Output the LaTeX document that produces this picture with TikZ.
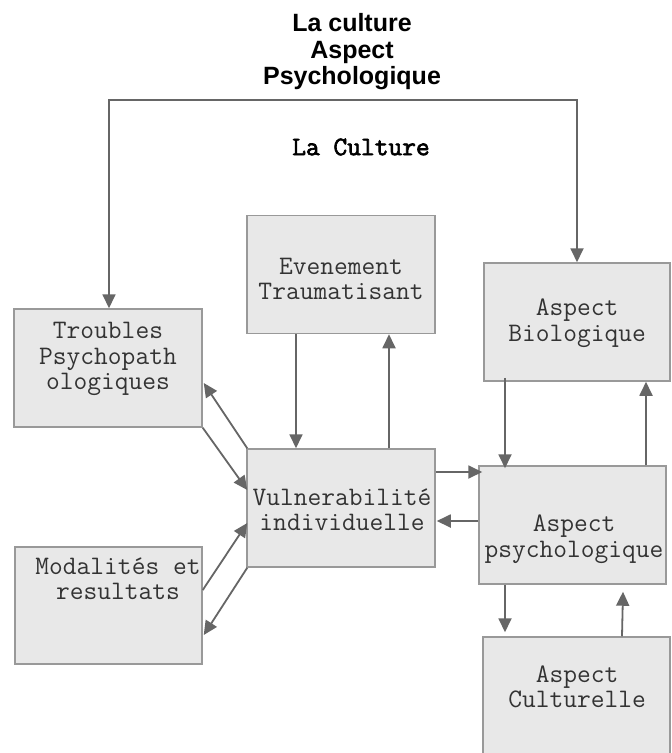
\documentclass[tikz,border=0pt]{standalone}
\usepackage{fontspec}
\setmainfont{Liberation Sans}
\newfontfamily\boldmono[AutoFakeBold=2.5]{Latin Modern Mono}
\usetikzlibrary{arrows.meta}
\definecolor{boxfill}{HTML}{E8E8E8}
\definecolor{boxline}{HTML}{999999}
\definecolor{arrline}{HTML}{666666}
\definecolor{txtgray}{HTML}{333333}
\begin{document}
\begin{tikzpicture}[x=1pt,y=-1pt,
  box/.style={draw=boxline,fill=boxfill,line width=1.5pt,minimum width=188pt,minimum height=118pt,inner sep=0pt},
  lbl/.style={align=center,text=txtgray,inner sep=0pt,font=\ttfamily\fontsize{26.7}{25.5}\selectfont},
  arr/.style={draw=arrline,line width=1.8pt,-{Triangle[length=14pt,width=13pt]}},
  arrb/.style={draw=arrline,line width=1.8pt,{Triangle[length=14pt,width=13pt]}-{Triangle[length=14pt,width=13pt]}}]
\clip (0,0) rectangle (672,753);
\fill[white] (0,0) rectangle (672,753);
% titles
\node[font=\bfseries\fontsize{25}{26.5}\selectfont,align=center,inner sep=0pt] (title) at (352,52) {La culture\\Aspect\\Psychologique};
\node[font=\boldmono\bfseries\fontsize{26.7}{25}\selectfont,inner sep=0pt] (cult) at (361,147) {La Culture};
% boxes
\node[box] (evt) at (341,274.5) {};\node[lbl] (evtT) at (341,279) {Evenement\\Traumatisant};
\node[box] (trb) at (108,368) {};\node[lbl] (trbT) at (108,359) {Troubles\\Psychopath\\ologiques};
\node[box,minimum width=186pt] (bio) at (577,322) {};\node[lbl] (bioT) at (577,323) {Aspect\\Biologique};
\node[box] (vul) at (341,508) {};\node[lbl] (vulT) at (342,510) {Vulnerabilité\\individuelle};
\node[box,minimum width=187pt] (psy) at (572.5,525) {};\node[lbl] (psyT) at (574,539) {Aspect\\psychologique};
\node[box,minimum width=187pt,minimum height=117pt] (mod) at (108.5,605.5) {};\node[lbl] (modT) at (118,579) {Modalités et\\resultats};
\node[box,minimum width=187pt] (cul) at (576.5,696) {};\node[lbl] (culT) at (577,687) {Aspect\\Culturelle};
% frame on top
\coordinate (frmL) at (109,100);\coordinate (frmR) at (577,100);
\draw[arrb] (frmL |- trb.north) -- (frmL) -- (frmR) -- (frmR |- bio.north);
% links
\draw[arr] ([xshift=-45pt]evt.south) -- ([xshift=-45pt]vul.north);
\draw[arr] ([xshift=48pt]vul.north) -- ([xshift=48pt]evt.south);
\draw[arr] ([xshift=1pt]vul.north west) -- ([xshift=1pt,yshift=-15pt]trb.east);
\draw[arr] (trb.south east) -- ([xshift=1pt,yshift=18pt]vul.west);
\draw[arr] ([yshift=15.5pt]mod.east) -- ([xshift=1pt,yshift=-15pt]vul.west);
\draw[arr] ([xshift=1pt]vul.south west) -- ([xshift=1pt,yshift=-29.5pt]mod.east);
\draw[arr] ([yshift=36pt]vul.east) -- ([xshift=4pt,yshift=53pt]psy.west);
\draw[arr] ([yshift=4pt]psy.west) -- ([xshift=1pt,yshift=-13pt]vul.east);
\draw[arr] ([xshift=-72pt,yshift=4pt]bio.south) -- ([xshift=-67.5pt,yshift=-3pt]psy.north);
\draw[arr] ([xshift=73.5pt]psy.north) -- ([xshift=69pt]bio.south);
\draw[arr] ([xshift=-67.5pt]psy.south) -- ([xshift=-71.5pt,yshift=4pt]cul.north);
\draw[arr] ([xshift=45.5pt]cul.north) -- ([xshift=50.5pt,yshift=-7pt]psy.south);
\end{tikzpicture}
\end{document}
